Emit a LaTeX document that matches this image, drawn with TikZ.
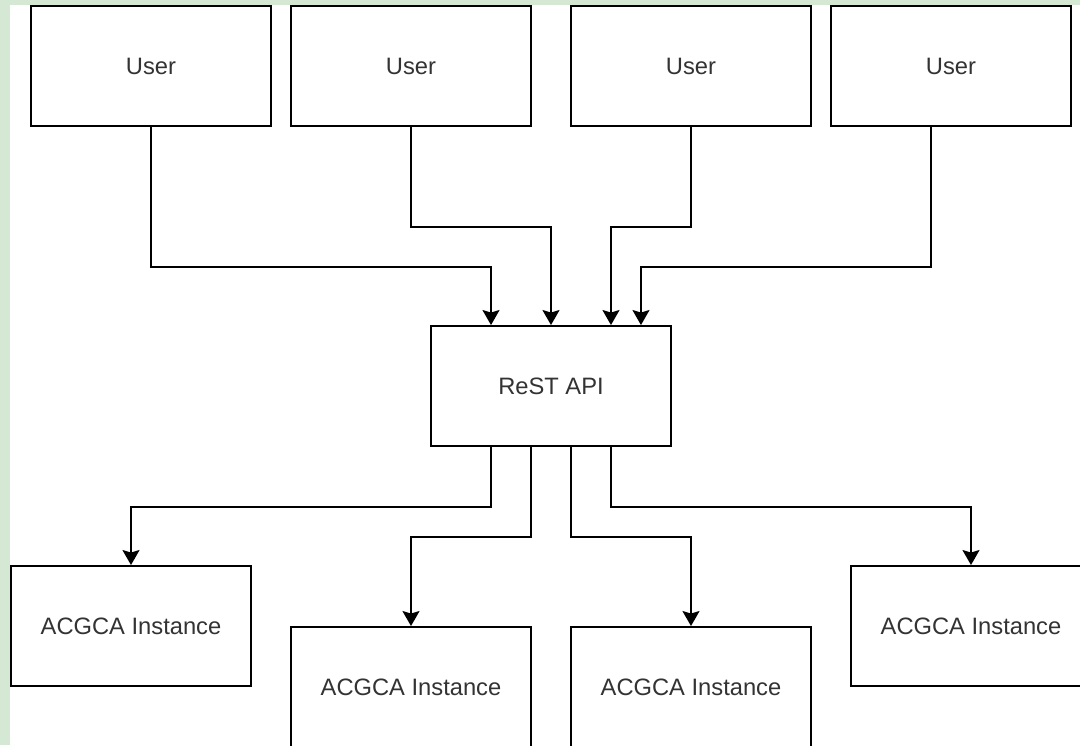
\documentclass[tikz,border=0pt]{standalone}
\usepackage{fontspec}
\setmainfont{Liberation Sans}
\usetikzlibrary{positioning,arrows.meta}
\definecolor{bggreen}{HTML}{D5E8D4}
\definecolor{txtgray}{HTML}{333333}
\tikzset{
  comp/.style={
    draw, rectangle, minimum height=2.4cm, minimum width=4.8cm, line
    width=1.1pt, text=txtgray, font=\fontsize{13.5}{16}\selectfont
  },
  conn/.style={
    line width=1.1pt, -{Stealth[length=0.3cm,width=0.34cm,inset=0.05cm]}
  }
}

\begin{document}
\begin{tikzpicture}[x=0.02cm, y=-0.02cm]
  \useasboundingbox (0, 0) rectangle (1080, 745);
  \fill[bggreen] (0, 0) rectangle (1080, 745);
  \fill[white] (10, 5) rectangle (1080, 745);

  % users
  \node[comp] (u1) at (151, 66) {User};
  \node[comp] (u2) at (411, 66) {User};
  \node[comp] (u3) at (691, 66) {User};
  \node[comp] (u4) at (951, 66) {User};

  % api
  \node[comp] (api) at (551, 386) {ReST API};

  % instances
  \node[comp] (i1) at (131, 626) {ACGCA Instance};
  \node[comp] (i2) at (411, 687) {ACGCA Instance};
  \node[comp] (i3) at (691, 687) {ACGCA Instance};
  \node[comp] (i4) at (971, 626) {ACGCA Instance};

  \draw[conn] (u1.south) -- ++(0, 140) -| ([xshift=-1.2cm]api.north);
  \draw[conn] (u2.south) -- ++(0, 100) -| (api.north);
  \draw[conn] (u3.south) -- ++(0, 100) -| ([xshift=1.2cm]api.north);
  \draw[conn] ([xshift=-0.4cm]u4.south) -- ++(0, 140) -| ([xshift=1.8cm]api.north);

  \draw[conn] ([xshift=-1.2cm]api.south) -- ++(0, 60) -| (i1.north);
  \draw[conn] ([xshift=-0.4cm]api.south) -- ++(0, 90) -| (i2.north);
  \draw[conn] ([xshift=0.4cm]api.south) -- ++(0, 90) -| (i3.north);
  \draw[conn] ([xshift=1.2cm]api.south) -- ++(0, 60) -| (i4.north);
\end{tikzpicture}
\end{document}
